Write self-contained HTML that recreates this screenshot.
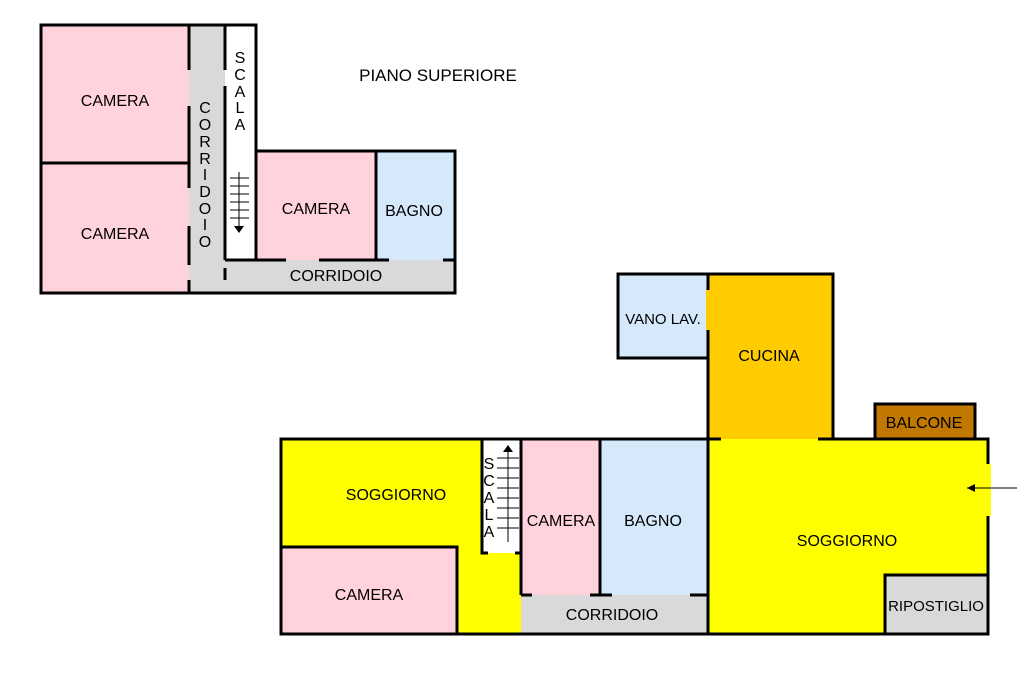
<!DOCTYPE html>
<html><head><meta charset="utf-8"><style>
html,body{margin:0;padding:0;background:#fff;width:1024px;height:682px;overflow:hidden}
svg{display:block}
text{font-family:"Liberation Sans",sans-serif;font-size:16px;fill:#000}
</style></head><body>
<svg width="1024" height="682" viewBox="0 0 1024 682" xmlns="http://www.w3.org/2000/svg">
<!-- UPPER FLOOR fills -->
<rect x="41" y="25" width="148" height="268" fill="#ffd2dc"/>
<rect x="189" y="25" width="36" height="268" fill="#d9d9d9"/>
<rect x="225" y="25" width="31" height="235" fill="#fff"/>
<rect x="256" y="151" width="120" height="109" fill="#ffd2dc"/>
<rect x="376" y="151" width="79" height="109" fill="#d5e9fb"/>
<rect x="225" y="260" width="230" height="33" fill="#d9d9d9"/>
<g stroke="#000" stroke-width="3" fill="none">
<path d="M41 25 H256 V151 H455 V293 H41 Z"/>
<path d="M41 163 H189"/>
<path d="M189 25 V70 M189 106 V188 M189 226 V265 M189 293 V280"/>
<path d="M225 25 V70 M225 86 V260 M225 268 V280"/>
<path d="M225 260 H286 M256 151 V260 M319 260 H376 M376 151 V260 M376 260 H389 M443 260 H455"/>
</g>
<!-- stairs upper -->
<g stroke="#000" stroke-width="1">
<line x1="239" y1="172" x2="239" y2="228"/>
<line x1="230" y1="178" x2="249" y2="178"/><line x1="230" y1="186" x2="249" y2="186"/>
<line x1="230" y1="194" x2="249" y2="194"/><line x1="230" y1="202" x2="249" y2="202"/>
<line x1="230" y1="210" x2="249" y2="210"/><line x1="230" y1="218" x2="249" y2="218"/>
</g>
<path d="M234 226 L244 226 L239 233 Z" fill="#000"/>
<text x="115" y="106" text-anchor="middle">CAMERA</text>
<text x="115" y="239" text-anchor="middle">CAMERA</text>
<text x="316" y="214" text-anchor="middle">CAMERA</text>
<text x="414" y="216" text-anchor="middle">BAGNO</text>
<text x="336" y="281" text-anchor="middle">CORRIDOIO</text>
<text x="438" y="81" text-anchor="middle" style="font-size:17px">PIANO SUPERIORE</text>
<g text-anchor="middle">
<text x="205" y="113">C</text><text x="205" y="130">O</text><text x="205" y="147">R</text><text x="205" y="164">R</text><text x="205" y="180">I</text><text x="205" y="197">D</text><text x="205" y="214">O</text><text x="205" y="230">I</text><text x="205" y="247">O</text>
<text x="240" y="63">S</text><text x="240" y="80">C</text><text x="240" y="97">A</text><text x="240" y="113">L</text><text x="240" y="130">A</text>
</g>

<!-- LOWER FLOOR fills -->
<rect x="281" y="439" width="707" height="195" fill="#ffff00"/>
<rect x="281" y="547" width="176" height="87" fill="#ffd2dc"/>
<rect x="482" y="439" width="39" height="114" fill="#fff"/>
<rect x="521" y="439" width="79" height="156" fill="#ffd2dc"/>
<rect x="600" y="439" width="108" height="156" fill="#d5e9fb"/>
<rect x="521" y="595" width="187" height="39" fill="#d9d9d9"/>
<rect x="885" y="575" width="103" height="59" fill="#d9d9d9"/>
<rect x="708" y="274" width="125" height="165" fill="#ffcc00"/>
<rect x="618" y="274" width="90" height="84" fill="#d5e9fb"/>
<rect x="875" y="404" width="100" height="35" fill="#c07800"/>
<g stroke="#000" stroke-width="3" fill="none">
<path d="M988 464 V439 H833 V274 H708 V439 H281 V634 H988 V516"/>
<path d="M708 439 H721 M818 439 H833"/>
<path d="M618 274 H708 V358 H618 Z"/>
<path d="M875 439 V404 H975 V439"/>
<path d="M281 547 H457 V634"/>
<path d="M482 439 V553 H488 M515 553 H521 V439 M521 439 V595"/>
<path d="M521 595 H532 M600 439 V595 M590 595 H612 M690 595 H708 M708 439 V634"/>
<path d="M885 634 V575 H988"/>
</g>
<rect x="706" y="290" width="5" height="40" fill="#ffcc00"/>
<rect x="986" y="464" width="5" height="52" fill="#ffff00"/>
<!-- stairs lower -->
<g stroke="#000" stroke-width="1">
<line x1="508" y1="448" x2="508" y2="542"/>
<line x1="497" y1="458" x2="519" y2="458"/><line x1="497" y1="468" x2="519" y2="468"/>
<line x1="497" y1="478" x2="519" y2="478"/><line x1="497" y1="488" x2="519" y2="488"/>
<line x1="497" y1="498" x2="519" y2="498"/><line x1="497" y1="508" x2="519" y2="508"/>
<line x1="497" y1="518" x2="519" y2="518"/><line x1="497" y1="528" x2="519" y2="528"/>
<line x1="967" y1="488" x2="1017" y2="488"/>
</g>
<path d="M503 452 L513 452 L508 445 Z" fill="#000"/>
<path d="M967 488 L975 484 L975 492 Z" fill="#000"/>
<g text-anchor="middle">
<text x="489" y="469">S</text><text x="489" y="486">C</text><text x="489" y="503">A</text><text x="489" y="520">L</text><text x="489" y="537">A</text>
<text x="396" y="500">SOGGIORNO</text>
<text x="369" y="600">CAMERA</text>
<text x="561" y="526">CAMERA</text>
<text x="653" y="526">BAGNO</text>
<text x="612" y="620">CORRIDOIO</text>
<text x="847" y="546">SOGGIORNO</text>
<text x="769" y="361">CUCINA</text>
<text x="924" y="428">BALCONE</text>
<text x="663" y="324" style="font-size:15px">VANO LAV.</text>
<text x="936" y="611" style="font-size:15px">RIPOSTIGLIO</text>
</g>
</svg>
</body></html>
